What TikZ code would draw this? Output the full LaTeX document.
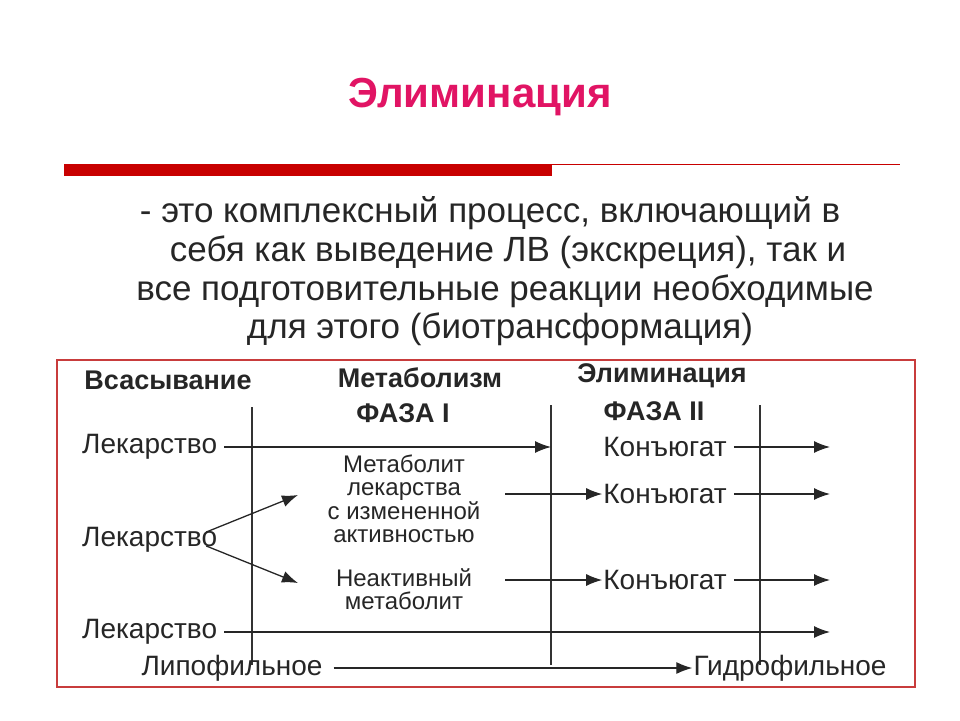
\documentclass[tikz,border=0pt]{standalone}
\usepackage{fontspec}
\setmainfont{Liberation Sans}
\usetikzlibrary{arrows.meta}
\definecolor{titlec}{RGB}{225,20,100}
\definecolor{barc}{RGB}{200,0,0}
\definecolor{boxc}{RGB}{200,60,60}
\begin{document}
\begin{tikzpicture}[x=1pt,y=-1pt,
  body/.style={font=\fontsize{35}{40}\selectfont, text=black!85},
  dg/.style={font=\fontsize{27}{30}\selectfont\bfseries, text=black!85, inner sep=1pt},
  dgn/.style={font=\fontsize{28}{30}\selectfont, text=black!85, inner sep=1pt},
  mt/.style={font=\fontsize{24}{23.5}\selectfont, text=black!85, inner sep=0pt, align=center},
  vl/.style={black!80, line width=1.2pt},
  ar/.style={black!85, line width=1.3pt, -{Latex[length=16pt,width=12pt]}}]
\useasboundingbox (0,0) rectangle (960,720);
\node[font=\fontsize{42}{46}\selectfont\bfseries, text=titlec] (title) at (480,97) {Элиминация};
\fill[barc] (64,164) rectangle (552,176);
\draw[barc, line width=1pt] (552,164.5) -- (900,164.5);
\node[body] (l1) at (490,213) {- это комплексный процесс, включающий в};
\node[body] (l2) at (508,252) {себя как выведение ЛВ (экскреция), так и};
\node[body] (l3) at (505,291) {все подготовительные реакции необходимые};
\node[body] (l4) at (500,329) {для этого (биотрансформация)};
\draw[boxc, line width=1.2pt] (57,360) rectangle (915,687);
\draw[vl] (252,407) -- (252,665);
\draw[vl] (551,405) -- (551,665);
\draw[vl] (760,405) -- (760,665);
\node[dg] (h1) at (168,380) {Всасывание};
\node[dg] (h2) at (420,378) {Метаболизм};
\node[dg] (h3) at (662,376) {Элиминация};
\node[dg] (f1) at (403,413) {ФАЗА I};
\node[dg] (f2) at (654,411) {ФАЗА II};
\node[dgn, anchor=west] (d1) at (81,447) {Лекарство};
\coordinate (d1e) at (551,447);
\node[dgn] (k1) at (665,447) {Конъюгат};
\coordinate (k1e) at (830,447);
\node[mt] (m1) at (404,499) {Метаболит\\лекарства\\с измененной\\активностью};
\node[dgn] (k2) at (665,494) {Конъюгат};
\coordinate (k2e) at (830,494);
\node[dgn, anchor=west] (d2) at (81,540) {Лекарство};
\node[mt] (m2) at (404,589) {Неактивный\\метаболит};
\node[dgn] (k3) at (665,580) {Конъюгат};
\coordinate (k3e) at (830,580);
\node[dgn, anchor=west] (d3) at (81,632) {Лекарство};
\coordinate (d3e) at (830,632);
\node[dgn] (lip) at (232,668) {Липофильное};
\node[dgn] (gid) at (790,668) {Гидрофильное};
\draw[ar] (d1.east) ++(6,0) -- (d1e);
\draw[ar] (k1.east) ++(6,0) -- (k1e);
\draw[ar] (505,494) -- (k2.west);
\draw[ar] (k2.east) ++(6,0) -- (k2e);
\draw[ar] (505,580) -- (k3.west);
\draw[ar] (k3.east) ++(6,0) -- (k3e);
\draw[ar] (d3.east) ++(6,0) -- (d3e);
\draw[ar] (d2.east) ++(-12,-8) -- (298,495);
\draw[ar] (d2.east) ++(-12,6) -- (298,583);
\draw[ar] (lip.east) ++(10,0) -- (gid.west);
\end{tikzpicture}
\end{document}
